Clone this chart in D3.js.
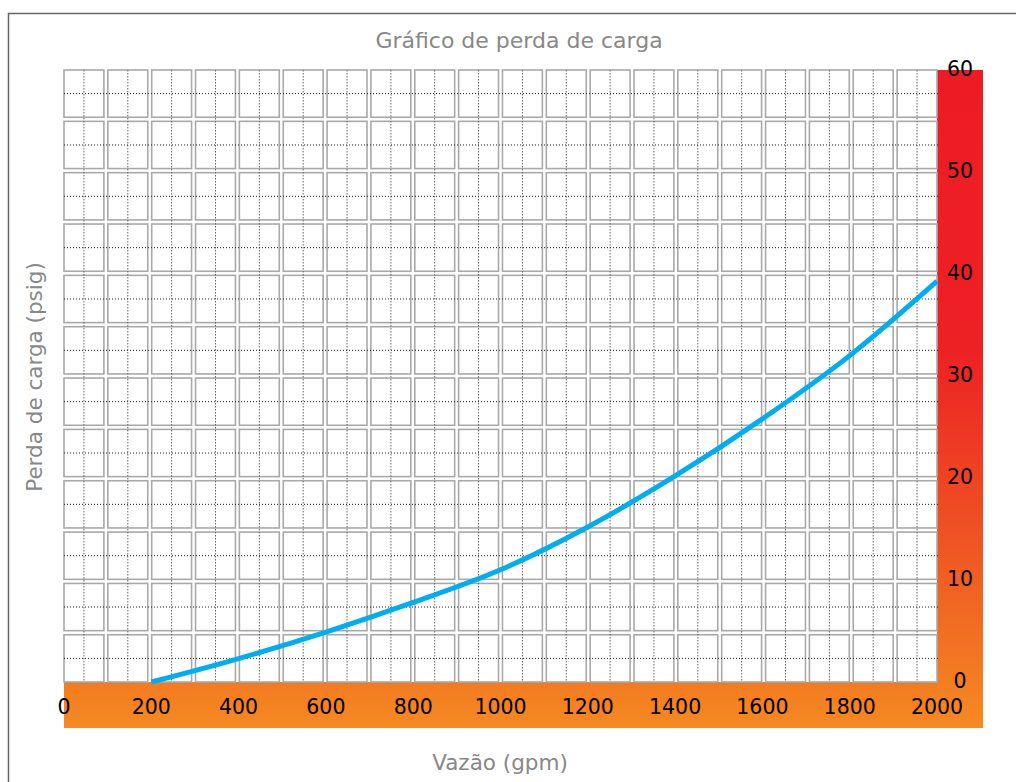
<!DOCTYPE html>
<html>
<head>
<meta charset="utf-8">
<script src="https://cdn.jsdelivr.net/npm/d3@7"></script>
<style>
  body { margin: 0; background: #fff; }
  svg { font-family: "DejaVu Sans", sans-serif; }
</style>
</head>
<body>
<div id="chart"></div>
<script>
// curve (gpm, psig)
var flow = [200, 400, 600, 800, 1000, 1200, 1400, 1600, 1800, 2000];
var loss = [0, 2.3, 4.9, 7.8, 11.0, 15.2, 20.2, 25.8, 32.0, 39.3];
var xTicks = [0, 200, 400, 600, 800, 1000, 1200, 1400, 1600, 1800, 2000];
var yTicks = [0, 10, 20, 30, 40, 50, 60];
var cols = d3.range(20);   // 100 gpm per cell
var rows = d3.range(12);   // 5 psig per cell

var W = 1016, H = 782;
var plot = {left: 64, right: 937, top: 70, bottom: 682};

var svg = d3.select("#chart").append("svg")
    .attr("width", W)
    .attr("height", H);

var x = d3.scaleLinear().domain([0, 2000]).range([plot.left, plot.right]);
var y = d3.scaleLinear().domain([0, 60]).range([plot.bottom, plot.top]);

var colBand = d3.scaleBand().domain(cols).range([plot.left, plot.right]).paddingInner(0.09);
var rowBand = d3.scaleBand().domain(rows).range([plot.top, plot.bottom]).paddingInner(0.08);

// frame
svg.append("rect")
    .attr("x", 8.5).attr("y", 13.5)
    .attr("width", W).attr("height", H)
    .attr("fill", "none")
    .attr("stroke", "#666")
    .attr("stroke-width", 1.5);

var defs = svg.append("defs");
var grad = defs.append("linearGradient")
    .attr("id", "sideGrad")
    .attr("x1", 0).attr("y1", 0).attr("x2", 0).attr("y2", 1);
grad.append("stop").attr("offset", "0").attr("stop-color", "#ed1c24");
grad.append("stop").attr("offset", "0.42").attr("stop-color", "#ed2024");
grad.append("stop").attr("offset", "0.72").attr("stop-color", "#ef5523");
grad.append("stop").attr("offset", "1").attr("stop-color", "#f58a22");

var gradB = defs.append("linearGradient")
    .attr("id", "botGrad")
    .attr("x1", 0).attr("y1", 0).attr("x2", 0).attr("y2", 1);
gradB.append("stop").attr("offset", "0").attr("stop-color", "#f37a20");
gradB.append("stop").attr("offset", "1").attr("stop-color", "#f58a22");

// coloured bars
svg.append("rect")
    .attr("x", plot.left).attr("y", plot.bottom)
    .attr("width", 983 - plot.left).attr("height", 728 - plot.bottom)
    .attr("fill", "url(#botGrad)");
svg.append("rect")
    .attr("x", plot.right).attr("y", plot.top)
    .attr("width", 983 - plot.right).attr("height", 728 - plot.top)
    .attr("fill", "url(#sideGrad)");

// grid cells
var cells = [];
rows.forEach(function(r) { cols.forEach(function(c) { cells.push({r: r, c: c}); }); });
svg.append("g").selectAll("rect")
    .data(cells)
    .enter().append("rect")
    .attr("x", d => colBand(d.c))
    .attr("y", d => rowBand(d.r))
    .attr("width", colBand.bandwidth())
    .attr("height", rowBand.bandwidth())
    .attr("fill", "#fff")
    .attr("stroke", "#a9a9a9")
    .attr("stroke-width", 1.6);

// dotted centre lines
svg.append("g").selectAll("line")
    .data(cols)
    .enter().append("line")
    .attr("x1", d => colBand(d) + colBand.bandwidth() / 2)
    .attr("x2", d => colBand(d) + colBand.bandwidth() / 2)
    .attr("y1", plot.top).attr("y2", plot.bottom)
    .attr("stroke", "#666")
    .attr("stroke-width", 1)
    .attr("stroke-dasharray", "1.5,1.5");
svg.append("g").selectAll("line")
    .data(rows)
    .enter().append("line")
    .attr("y1", d => rowBand(d) + rowBand.bandwidth() / 2)
    .attr("y2", d => rowBand(d) + rowBand.bandwidth() / 2)
    .attr("x1", plot.left).attr("x2", plot.right + 2)
    .attr("stroke", "#222")
    .attr("stroke-width", 1)
    .attr("stroke-dasharray", "1,2");

// curve
var line = d3.line()
    .x(d => x(d[0]))
    .y(d => y(d[1]))
    .curve(d3.curveMonotoneX);
svg.append("path")
    .datum(flow.map((f, i) => [f, loss[i]]))
    .attr("d", line)
    .attr("fill", "none")
    .attr("stroke", "#00aeef")
    .attr("stroke-width", 5);

// tick labels
svg.append("g").selectAll("text")
    .data(xTicks)
    .enter().append("text")
    .attr("x", d => x(d))
    .attr("y", 714)
    .attr("text-anchor", "middle")
    .attr("font-size", 20.5)
    .attr("fill", "#000")
    .text(d => d);
svg.append("g").selectAll("text")
    .data(yTicks)
    .enter().append("text")
    .attr("x", 960)
    .attr("y", d => y(d) - 1)
    .attr("dy", "0.35em")
    .attr("text-anchor", "middle")
    .attr("font-size", 20.5)
    .attr("fill", "#000")
    .text(d => d);

// titles
svg.append("text")
    .attr("x", 519).attr("y", 48)
    .attr("text-anchor", "middle")
    .attr("font-size", 22)
    .attr("fill", "#888")
    .text("Gráfico de perda de carga");
svg.append("text")
    .attr("x", 500).attr("y", 770)
    .attr("text-anchor", "middle")
    .attr("font-size", 21.5)
    .attr("fill", "#888")
    .text("Vazão (gpm)");
svg.append("text")
    .attr("transform", "translate(42,377) rotate(-90)")
    .attr("text-anchor", "middle")
    .attr("font-size", 21.5)
    .attr("fill", "#888")
    .text("Perda de carga (psig)");
</script>
</body>
</html>
